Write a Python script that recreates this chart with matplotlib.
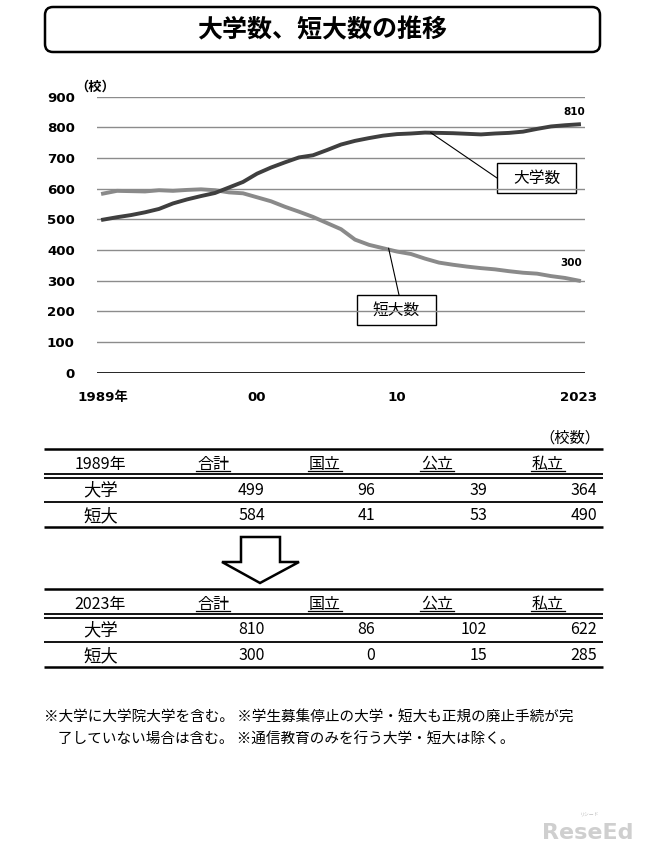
import matplotlib
matplotlib.use("Agg")
import matplotlib.pyplot as plt
from matplotlib.patches import FancyBboxPatch, Rectangle, Polygon, ConnectionPatch

plt.rcParams['font.family'] = ['Noto Sans CJK JP', 'DejaVu Sans']

# ---------------- data ----------------
years = list(range(1989, 2024))
univ = [499, 507, 514, 523, 534, 552, 565, 576, 586, 604, 622, 649, 669, 686, 702,
        709, 726, 744, 756, 765, 773, 778, 780, 783, 782, 781, 779, 777, 780, 782,
        786, 795, 803, 807, 810]
jc = [584, 593, 592, 591, 595, 593, 596, 598, 595, 588, 585, 572, 559, 541, 525,
      508, 488, 468, 434, 417, 406, 395, 387, 372, 359, 352, 346, 341, 337, 331,
      326, 323, 315, 309, 300]
xtick_years = [1989, 2000, 2010, 2023]
xtick_labels = ['1989年', '00', '10', '2023']
yticks = [0, 100, 200, 300, 400, 500, 600, 700, 800, 900]

table_cols = ['合計', '国立', '公立', '私立']
row_labels = ['大学', '短大']
t1989_univ = [499, 96, 39, 364]
t1989_jc = [584, 41, 53, 490]
t2023_univ = [810, 86, 102, 622]
t2023_jc = [300, 0, 15, 285]

title = '大学数、短大数の推移'
note1 = '※大学に大学院大学を含む。 ※学生募集停止の大学・短大も正規の廃止手続が完'
note2 = '了していない場合は含む。 ※通信教育のみを行う大学・短大は除く。'

W, H = 646, 850
fig = plt.figure(figsize=(W / 100, H / 100), dpi=100)
fig.patch.set_facecolor('white')

ov = fig.add_axes([0, 0, 1, 1])
ov.set_xlim(0, W)
ov.set_ylim(H, 0)
ov.axis('off')
ov.patch.set_alpha(0)

# ---------------- title ----------------
ov.add_patch(FancyBboxPatch((45, 7), 555, 45, boxstyle='round,pad=0,rounding_size=8',
                            fc='white', ec='black', lw=1.8))
ov.text(322, 30, title, ha='center', va='center', fontsize=18, fontweight='bold')

# ---------------- chart ----------------
x0, x1, ytop, ybot = 97, 585, 96.7, 372.7
ax = fig.add_axes([x0 / W, 1 - ybot / H, (x1 - x0) / W, (ybot - ytop) / H])
ax.set_xlim(1989 - 6 / 14, 2023 + 6 / 14)
ax.set_ylim(0, 900)
for s in ax.spines.values():
    s.set_visible(False)
ax.patch.set_alpha(0)
for y in yticks:
    ax.axhline(y, color='black' if y == 0 else '#8c8c8c', lw=1.2 if y == 0 else 1.0, zorder=0)

ax.plot(years, jc, color='#8a8a8a', lw=2.8, zorder=3, solid_joinstyle='round')
ax.plot(years, univ, color='#3f3f3f', lw=2.8, zorder=4, solid_joinstyle='round')

ax.set_yticks(yticks)
ax.set_yticklabels([str(v) for v in yticks], fontsize=9.6, fontweight='bold',
                   family=['DejaVu Sans', 'Noto Sans CJK JP'])
ax.set_xticks(xtick_years)
ax.set_xticklabels(xtick_labels, fontsize=9.6, fontweight='bold',
                   family=['DejaVu Sans', 'Noto Sans CJK JP'])
ax.tick_params(axis='y', length=0, pad=16)
ax.tick_params(axis='x', length=0, pad=13)

ax.text(-0.045, 1.035, '（校）', transform=ax.transAxes, fontsize=9.5, fontweight='bold',
        ha='left', va='center')

ax.annotate(str(univ[-1]), xy=(years[-1], univ[-1]), xytext=(-3.5, 9),
            textcoords='offset points', ha='center', va='center',
            fontsize=7.5, fontweight='bold', family=['DejaVu Sans'])
ax.annotate(str(jc[-1]), xy=(years[-1], jc[-1]), xytext=(-5.5, 12.5),
            textcoords='offset points', ha='center', va='center',
            fontsize=7.5, fontweight='bold', family=['DejaVu Sans'])

# callout boxes
def callout(label, bx, by, bw, bh, year, series, anchor):
    ov.add_patch(Rectangle((bx, by), bw, bh, fc='white', ec='black', lw=1.0, zorder=5))
    ov.text(bx + bw / 2, by + bh / 2, label, ha='center', va='center', fontsize=11.3, zorder=6)
    i = years.index(year)
    cp = ConnectionPatch(xyA=(year + 0.4, series[i]), coordsA=ax.transData,
                         xyB=anchor, coordsB=ov.transData, color='black', lw=0.8, zorder=4)
    fig.add_artist(cp)

callout('大学数', 497, 163, 79, 30, 2012, univ, (497, 178))
callout('短大数', 357, 295, 79, 30, 2009, jc, (399, 295))

# ---------------- tables ----------------
lx0, lx1 = 44, 603
col_centers = [213, 325, 437, 548]
col_rights = [265, 375, 487, 597]

def hline(y, lw):
    ov.plot([lx0, lx1], [y, y], color='black', lw=lw, solid_capstyle='butt')

def draw_table(y0, year_label, v_univ, v_jc):
    hline(y0, 1.8)
    ov.text(100, y0 + 15, year_label, ha='center', va='center', fontsize=11.5)
    for c, name in zip(col_centers, table_cols):
        ov.text(c, y0 + 15, name, ha='center', va='center', fontsize=11.5)
        ov.plot([c - 17, c + 17], [y0 + 22, y0 + 22], color='black', lw=0.9)
    hline(y0 + 25, 1.3)
    hline(y0 + 28.5, 1.3)
    for r, (lab, vals) in enumerate(zip(row_labels, [v_univ, v_jc])):
        yy = y0 + 41 + 26 * r
        ov.text(101, yy, lab, ha='center', va='center', fontsize=12.5)
        for xr, v in zip(col_rights, vals):
            ov.text(xr, yy, str(v), ha='right', va='center', fontsize=11.5)
    hline(y0 + 53, 1.3)
    hline(y0 + 78, 1.8)

ov.text(600, 438, '（校数）', ha='right', va='center', fontsize=11)
draw_table(449, '1989年', t1989_univ, t1989_jc)
draw_table(589, '2023年', t2023_univ, t2023_jc)

# arrow
ov.add_patch(Polygon([(241, 537), (280, 537), (280, 562), (299, 562), (260, 583),
                      (222, 562), (241, 562)], closed=True, fc='white', ec='black', lw=1.8))

# ---------------- notes ----------------
ov.text(44, 717, note1, ha='left', va='center', fontsize=10.5)
ov.text(58, 740, note2, ha='left', va='center', fontsize=10.5)

# watermark
ov.text(588, 833, 'ReseEd', ha='center', va='center', fontsize=16, fontweight='bold',
        color='#cfcfcf', family=['DejaVu Sans'])
ov.text(590, 815, 'リシード', ha='center', va='center', fontsize=3.5, color='#bdbdbd')

fig.savefig('out.png', dpi=100)
